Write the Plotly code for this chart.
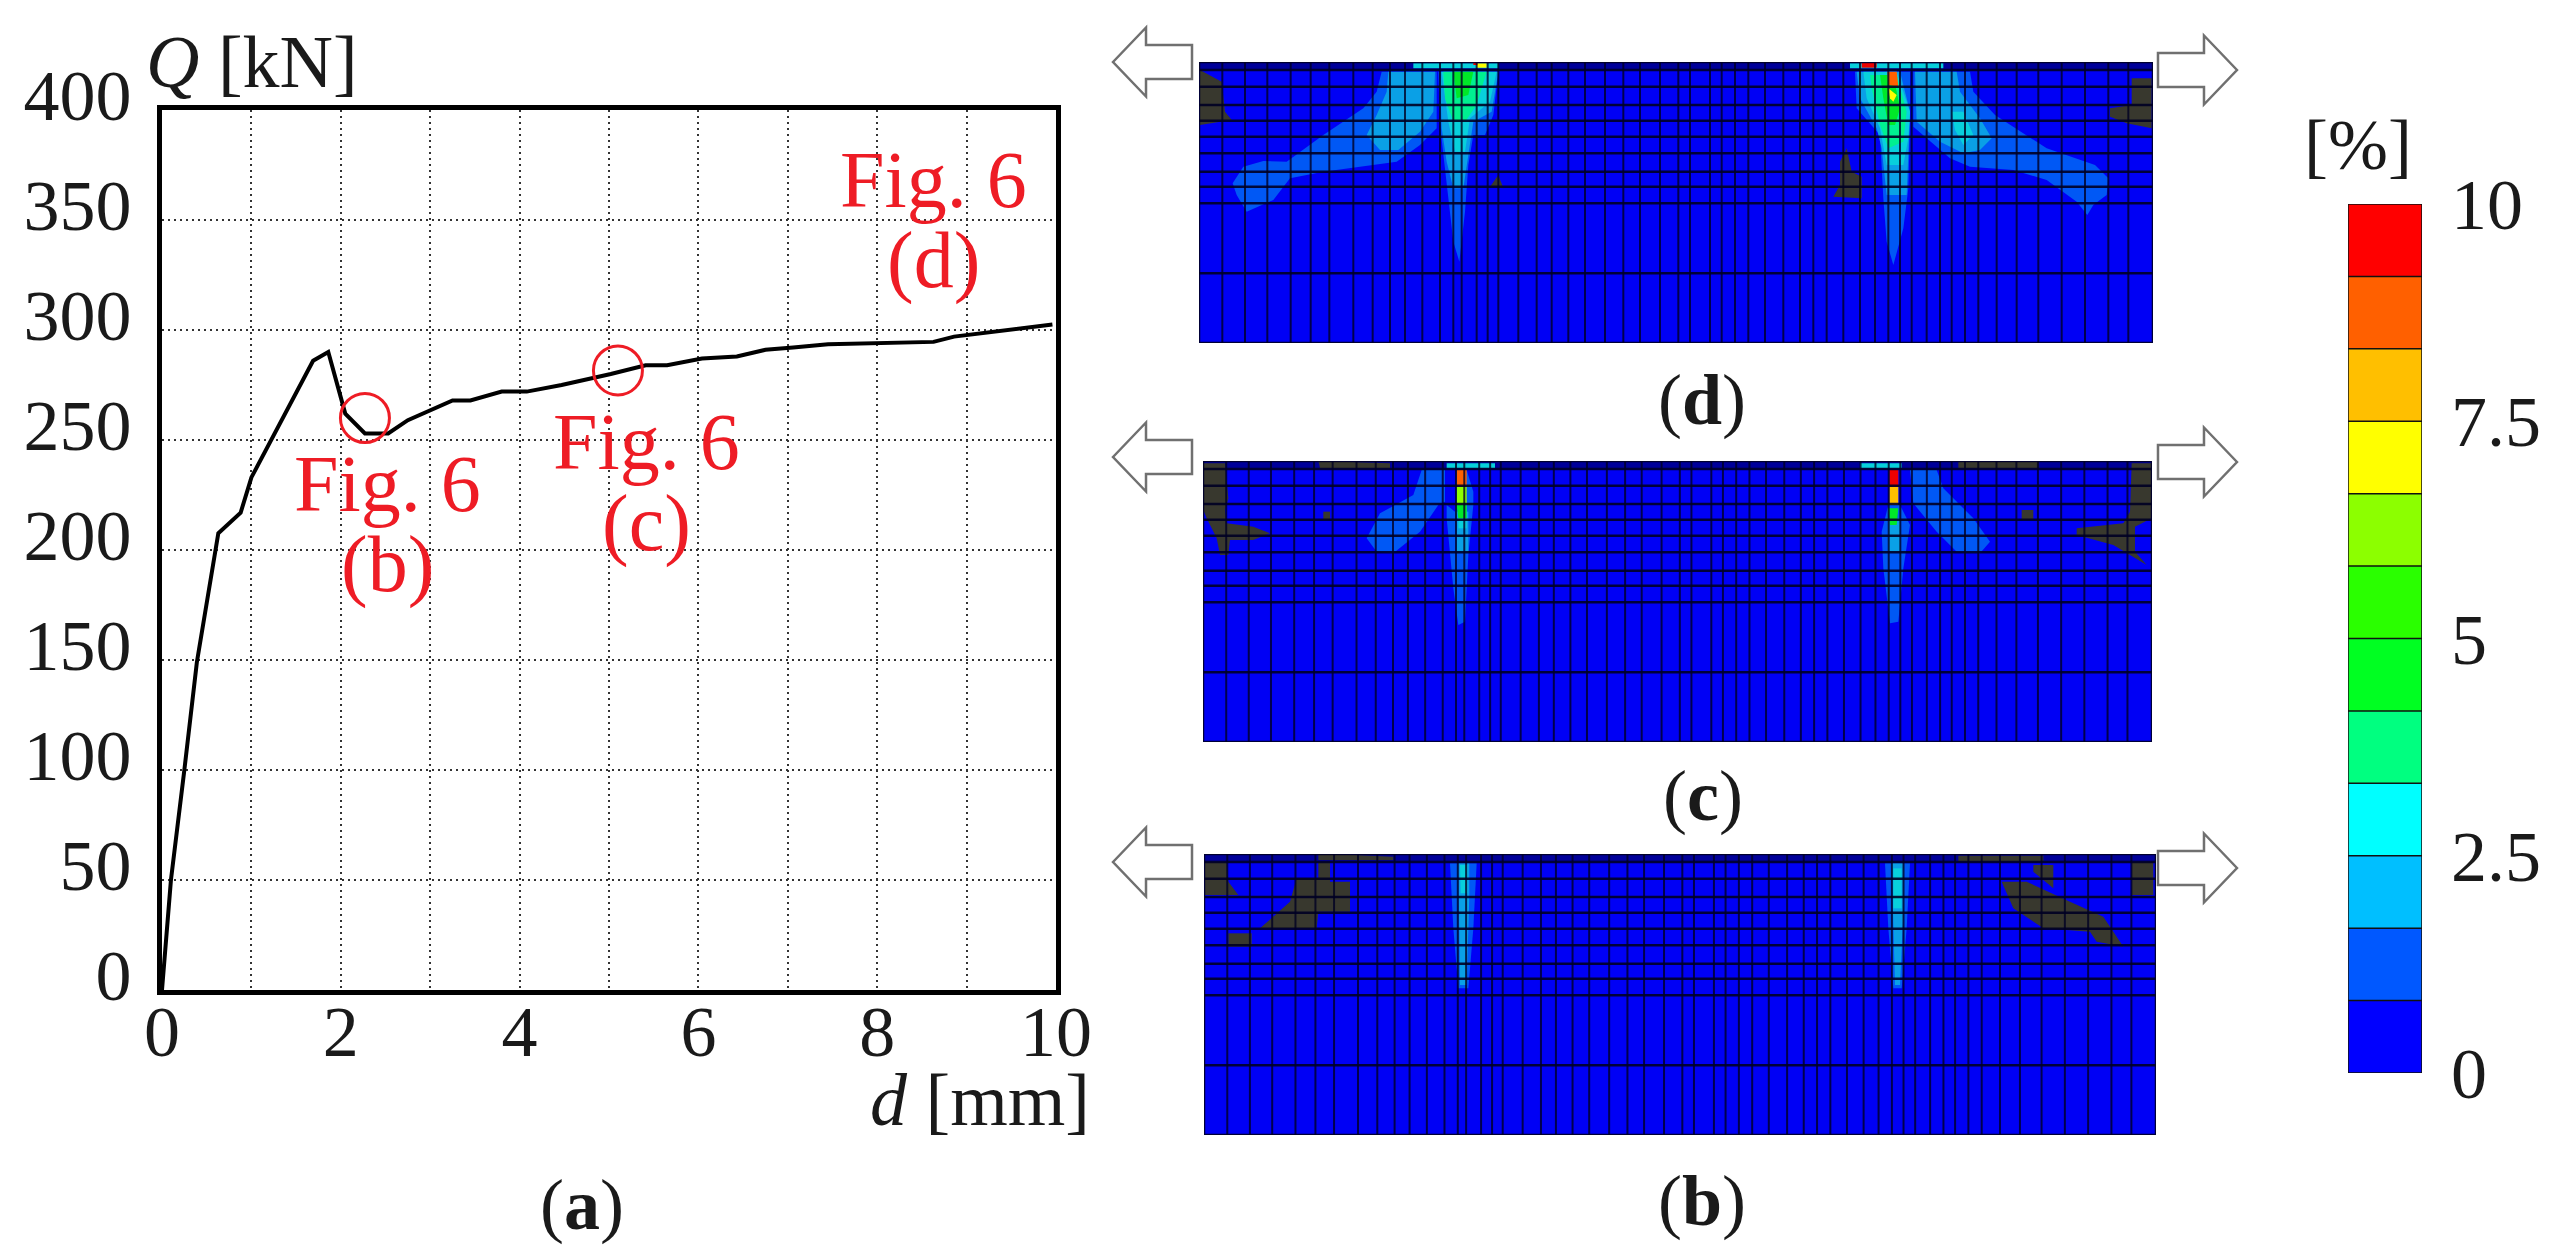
import plotly.graph_objects as go

W, H = 2564, 1253
SERIF = "Liberation Serif"
RED = "#ee1c25"

# ---------- chart (a): load-displacement curve ----------
D_MM = [0, 0.1, 0.25, 0.39, 0.63, 0.88, 1.0, 1.69, 1.86, 2.05, 2.27, 2.53, 2.75, 3.25, 3.45, 3.8, 4.08,
        4.47, 5.02, 5.41, 5.65, 6.04, 6.43, 6.75, 7.06, 7.45, 8.63, 8.86, 9.96]
Q_KN = [0, 50, 100, 149, 207.6, 217, 233, 286, 290, 262, 253, 253, 259, 268, 268, 272, 272,
        275, 280, 284, 284, 287, 288, 291, 292, 293.5, 294.6, 297, 302.5]
MARK_D = [2.27, 5.1, 10.09]
MARK_Q = [260, 281.6, 304]
X_TICKS = [0, 2, 4, 6, 8, 10]
Y_TICKS = [0, 50, 100, 150, 200, 250, 300, 350, 400]
X_GRID = [1, 2, 3, 4, 5, 6, 7, 8, 9]

# ---------- colour scale ----------
PALETTE = ["#0000ff", "#0058ff", "#00bfff", "#00ffff", "#00ff80", "#00ff22",
           "#2aff00", "#8cff00", "#ffff00", "#ffbf00", "#ff6000", "#ff0000"]
FEM_PALETTE = ["#0000f5", "#0058f5", "#0aa0e6", "#08d0dc", "#00f090", "#00e828",
               "#2aff00", "#8cff00", "#ffff00", "#ffbf00", "#ff6000", "#ee0000"]
DARK = "#38382e"
CB_LEVELS = list(range(12))
CB_EDGES = [0, 0.833, 1.667, 2.5, 3.333, 4.167, 5, 5.833, 6.667, 7.5, 8.333, 9.167, 10]
CB_TICKS = [0, 2.5, 5, 7.5, 10]
CB_TEXT = ["0", "2.5", "5", "7.5", "10"]

# ---------- FEM mesh lines, read in 3x crops of panel (d) ----------
MESH_X_L = [97, 165, 232, 302, 362, 418, 490, 548, 600, 645, 697, 750, 790, 815, 860, 893, 925,
            985, 1040, 1085, 1135, 1185, 1245, 1300, 1350, 1410, 1465]
MESH_X_R = [30, 90, 125, 165, 205, 255, 310, 360, 400, 440, 490, 540, 585, 625, 660, 695, 740,
            780, 815, 855, 895, 950, 1010, 1075, 1145, 1215, 1285, 1345]
MESH_Y = [45, 95, 150, 197, 245, 295, 350, 395, 445, 655]

L, R = "L", "R"
D_POLYS = [
    (1, L, [(575,50),(740,50),(740,220),(690,270),(620,320),(400,350),(300,370),(250,435),(170,470),(140,420),(128,385),(160,335),(220,318),(290,320),(400,240),(520,160),(560,110)]),
    (2, L, [(595,50),(735,50),(730,170),(690,230),(625,285),(570,285),(530,240),(560,180),(590,110)]),
    (1, L, [(745,50),(925,50),(910,180),(885,240),(850,240),(835,330),(825,470),(808,620),(790,560),(775,430),(760,300),(750,210)]),
    (2, L, [(750,50),(925,50),(905,170),(850,200),(835,300),(820,400),(790,400),(770,320),(755,220)]),
    (3, L, [(755,50),(920,50),(900,140),(840,190),(825,290),(795,290),(775,200)]),
    (4, L, [(760,50),(890,50),(860,150),(825,200),(790,200),(765,130)]),
    (5, L, [(790,50),(850,50),(835,120),(800,130)]),
    (3, L, [(670,25),(925,25),(925,40),(670,40)]),
    (8, L, [(860,25),(890,25),(890,38),(860,38)]),
    (11, L, [(850,22),(862,22),(862,30),(850,30)]),
    ("d", L, [(30,45),(95,80),(105,170),(125,195),(30,210)]),
    ("d", L, [(900,395),(925,360),(940,400)]),
    (1, R, [(525,50),(690,50),(690,200),(685,400),(670,520),(640,630),(620,560),(610,430),(600,240),(530,160)]),
    (2, R, [(530,50),(660,50),(690,170),(685,300),(680,420),(620,420),(605,280),(590,220),(540,130)]),
    (3, R, [(550,50),(650,50),(690,170),(685,250),(670,330),(620,330),(600,220),(560,130)]),
    (4, R, [(570,60),(650,60),(680,170),(670,260),(625,280),(600,210),(575,100)]),
    (5, R, [(600,60),(640,60),(660,160),(645,210),(625,210),(610,130)]),
    (8, R, [(625,100),(650,120),(640,140),(630,130)]),
    (10, R, [(622,50),(650,50),(655,95),(625,90)]),
    (1, R, [(700,50),(870,50),(880,110),(945,180),(1100,280),(1245,330),(1285,370),(1280,420),(1240,450),(1222,480),(1190,440),(1100,375),(1000,345),(870,335),(810,310),(700,215)]),
    (2, R, [(705,50),(830,50),(840,110),(900,190),(935,250),(900,285),(850,295),(780,260),(710,200)]),
    (3, R, [(815,170),(850,170),(880,240),(850,270),(825,225)]),
    (3, R, [(510,25),(790,25),(790,40),(510,40)]),
    (11, R, [(545,24),(590,24),(590,38),(545,38)]),
    ("d", R, [(1355,70),(1415,70),(1415,220),(1340,205),(1290,185),(1290,160),(1355,150)]),
    ("d", R, [(480,320),(500,280),(515,350),(545,365),(545,430),(460,425),(480,390)]),
]
C_POLYS = [
    ("d", L, [(40,25),(105,25),(115,130),(105,165),(40,165)]),
    ("d", L, [(40,165),(105,165),(110,205),(190,215),(240,235),(190,255),(120,255),(115,300),(90,300),(80,250),(50,190)]),
    ("d", L, [(400,170),(420,170),(420,195),(400,195)]),
    ("d", L, [(385,18),(600,25),(600,40),(390,40)]),
    (1, L, [(695,45),(765,45),(765,140),(745,150),(690,230),(610,295),(560,290),(530,250),(570,175),(670,120)]),
    (1, L, [(770,150),(795,170),(800,45),(830,45),(850,110),(850,150),(835,300),(825,500),(805,510),(790,400),(770,190)]),
    (2, L, [(800,170),(835,170),(835,290),(800,290)]),
    (3, L, [(805,140),(830,140),(830,220),(805,220)]),
    (5, L, [(800,150),(830,150),(830,190),(805,190)]),
    (7, L, [(800,95),(830,95),(830,150),(800,150)]),
    (10, L, [(800,45),(830,45),(830,95),(800,95)]),
    (3, L, [(770,25),(915,25),(915,40),(770,40)]),
    ("d", R, [(1355,25),(1415,25),(1415,190),(1365,215),(1365,290),(1400,330),(1300,270),(1190,240),(1190,220),(1330,205),(1350,170)]),
    ("d", R, [(1025,165),(1060,165),(1060,195),(1025,195)]),
    ("d", R, [(835,20),(1075,20),(1075,40),(835,40)]),
    (1, R, [(690,45),(770,45),(790,100),(880,190),(930,260),(900,295),(830,290),(770,230),(700,145)]),
    (1, R, [(605,230),(625,150),(660,150),(690,210),(670,340),(655,500),(630,505),(610,340)]),
    (2, R, [(625,190),(660,190),(660,290),(625,290)]),
    (5, R, [(625,160),(655,160),(650,210),(630,210)]),
    (9, R, [(628,95),(655,95),(655,150),(628,150)]),
    (11, R, [(628,45),(655,45),(655,95),(628,95)]),
    (3, R, [(540,25),(665,25),(665,40),(540,40)]),
]
B_POLYS = [
    ("d", L, [(45,50),(110,50),(115,110),(145,150),(45,150)]),
    ("d", L, [(385,50),(420,50),(420,110),(480,110),(480,200),(385,200),(380,250),(210,250),(300,170),(320,100),(385,100)]),
    ("d", L, [(115,265),(185,265),(185,305),(115,305)]),
    ("d", L, [(385,25),(610,35),(610,45),(385,45)]),
    (1, L, [(780,55),(860,55),(850,250),(835,430),(805,430),(790,250)]),
    (2, L, [(805,55),(838,55),(838,150),(830,420),(810,420),(805,150)]),
    (3, L, [(810,60),(832,60),(832,145),(812,145)]),
    (1, R, [(615,55),(690,55),(680,250),(665,430),(640,430),(625,250)]),
    (2, R, [(635,55),(670,55),(670,200),(660,420),(645,420),(640,200)]),
    (3, R, [(640,70),(665,70),(665,190),(640,190)]),
    ("d", R, [(1355,50),(1420,50),(1420,150),(1355,150)]),
    ("d", R, [(1060,60),(1120,60),(1120,130),(1060,80)]),
    ("d", R, [(965,110),(1040,110),(1170,170),(1270,215),(1330,305),(1250,290),(1230,260),(1090,250),(1000,190)]),
    ("d", R, [(835,32),(1090,32),(1090,50),(835,50)]),
]

# panel: axis suffix, picture box (x0, x1, y_top, y_bottom), crop tops, polygons
PANELS = [
    ("2", (1199, 2153, 62, 343), 55, D_POLYS),
    ("3", (1203, 2152, 461, 742), 455, C_POLYS),
    ("4", (1204, 2156, 854, 1135), 845, B_POLYS),
]
CROP_X = {L: 1190, R: 1680}

# hollow load arrows, tip heights in picture
ARROW_TIP_L = [62, 457, 862]
ARROW_TIP_R = [70, 462, 868]

fig = go.Figure()

# main curve
fig.add_trace(go.Scatter(x=D_MM, y=Q_KN, mode="lines", line=dict(color="#000", width=4),
                         cliponaxis=False, showlegend=False, xaxis="x", yaxis="y"))
fig.add_trace(go.Scatter(x=MARK_D, y=MARK_Q, mode="markers", cliponaxis=False, showlegend=False,
                         marker=dict(symbol="circle-open", size=49, color=RED, line=dict(width=3, color=RED)),
                         xaxis="x", yaxis="y"))


def poly_trace(xs, ys, color, s):
    return go.Scatter(x=xs, y=ys, mode="lines", fill="toself", fillcolor=color,
                      line=dict(width=0, color=color), showlegend=False, hoverinfo="skip",
                      xaxis="x" + s, yaxis="y" + s)


for s, (x0, x1, yt, yb), crop_y, polys in PANELS:
    fig.add_trace(poly_trace([x0, x1, x1, x0, x0], [yt, yt, yb, yb, yt], FEM_PALETTE[0], s))
    fig.add_trace(poly_trace([x0, x1, x1, x0, x0], [yt, yt, yt + 7, yt + 7, yt], "#00009a", s))
    for level, crop, pts in polys:
        color = DARK if level == "d" else FEM_PALETTE[level]
        xs = [CROP_X[crop] + p[0] / 3 for p in pts]
        ys = [crop_y + p[1] / 3 for p in pts]
        fig.add_trace(poly_trace(xs + xs[:1], ys + ys[:1], color, s))
    mx, my = [], []
    sx = (x1 - x0) / 954
    for base, vals in ((1190, MESH_X_L), (1680, MESH_X_R)):
        for v in vals:
            px = x0 + (base + v / 3 - 1199) * sx
            mx += [px, px, None]
            my += [yt, yb, None]
    fig.add_trace(go.Scatter(x=mx, y=my, mode="lines", line=dict(color="rgba(0,0,35,0.8)", width=2),
                             showlegend=False, hoverinfo="skip", xaxis="x" + s, yaxis="y" + s))
    hx, hy = [], []
    for v in MESH_Y:
        py = yt + (55 + v / 3 - 62)
        hx += [x0, x1, None]
        hy += [py, py, None]
    hx += [x0, x1, x1, x0, x0]
    hy += [yt, yt, yb, yb, yt]
    fig.add_trace(go.Scatter(x=hx, y=hy, mode="lines", line=dict(color="rgba(0,0,35,0.9)", width=2.5),
                             showlegend=False, hoverinfo="skip", xaxis="x" + s, yaxis="y" + s))

# colour bar
n = len(PALETTE) - 1
scale = []
for i, c in enumerate(PALETTE):
    scale += [[i / (n + 1), c], [(i + 1) / (n + 1), c]]
fig.add_trace(go.Heatmap(x=[0, 1], y=CB_EDGES, z=[[v] for v in CB_LEVELS], zmin=-0.5, zmax=11.5,
                         colorscale=scale, showscale=False, xaxis="x5", yaxis="y5"))
ex, ey = [], []
for e in CB_EDGES:
    ex += [0, 1, None]
    ey += [e, e, None]
ex += [0, 0, None, 1, 1]
ey += [0, 10, None, 0, 10]
fig.add_trace(go.Scatter(x=ex, y=ey, mode="lines", line=dict(color="#111", width=1.5), cliponaxis=False,
                         showlegend=False, xaxis="x5", yaxis="y5"))


def fx(p):
    return p / W


def fy(p):
    return 1 - p / H


def panel_axes(x0, x1, yt, yb):
    xa = dict(domain=[fx(x0), fx(x1)], range=[x0, x1], visible=False, fixedrange=True, automargin=False)
    ya = dict(domain=[fy(yb), fy(yt)], range=[yb, yt], visible=False, fixedrange=True, automargin=False)
    return xa, ya


layout = dict(
    width=W, height=H, margin=dict(l=0, r=0, t=0, b=0), autosize=False,
    paper_bgcolor="white", plot_bgcolor="white", showlegend=False,
    font=dict(family=SERIF, color="#1a1a1a"),
    xaxis=dict(domain=[fx(162), fx(1056)], range=[0, 10], tickvals=X_TICKS, ticks="", automargin=False,
               tickfont=dict(family=SERIF, size=72, color="#1a1a1a"), ticklabelstandoff=-25,
               showline=True, linecolor="#000", linewidth=5, mirror=True, zeroline=False,
               showgrid=False, anchor="y"),
    yaxis=dict(domain=[fy(990), fy(110)], range=[0, 400], tickvals=Y_TICKS, ticks="", automargin=False,
               tickfont=dict(family=SERIF, size=72, color="#1a1a1a"), ticklabelstandoff=11,
               ticklabelshift=-15,
               showline=True, linecolor="#000", linewidth=5, mirror=True, zeroline=False,
               showgrid=True, gridcolor="#333", griddash="2px,4px", gridwidth=1.5, anchor="x"),
    xaxis6=dict(domain=[fx(162), fx(1056)], range=[0, 10], overlaying="x", tickvals=X_GRID, showticklabels=False,
                ticks="", showgrid=True, gridcolor="#333", griddash="2px,4px", gridwidth=1.5, automargin=False,
                zeroline=False, showline=False, anchor="y"),
    xaxis5=dict(domain=[fx(2348), fx(2422)], range=[0, 1], visible=False, fixedrange=True, anchor="y5", automargin=False),
    yaxis5=dict(domain=[fy(1073), fy(204)], range=[0, 10], side="right", anchor="x5", tickvals=CB_TICKS, automargin=False,
                ticktext=CB_TEXT, ticks="", showgrid=False, zeroline=False, showline=False,
                tickfont=dict(family=SERIF, size=72, color="#1a1a1a"), ticklabelstandoff=28),
)
for s, (x0, x1, yt, yb), _, _ in PANELS:
    xa, ya = panel_axes(x0, x1, yt, yb)
    xa["anchor"] = "y" + s
    ya["anchor"] = "x" + s
    layout["xaxis" + s] = xa
    layout["yaxis" + s] = ya

fig.update_layout(**layout)
# a trace on the gridline axis so it is rendered
fig.add_trace(go.Scatter(x=[0], y=[0], mode="markers", marker=dict(opacity=0), showlegend=False,
                         hoverinfo="skip", xaxis="x6", yaxis="y"))


def note(text, x, y, size, color="#1a1a1a", anchor="center"):
    fig.add_annotation(text=text, xref="paper", yref="paper", x=fx(x), y=fy(y), showarrow=False,
                       xanchor=anchor, yanchor="middle", font=dict(family=SERIF, size=size, color=color))


note("<i>Q</i> [kN]", 144, 62, 74, anchor="left")
note("<i>d</i> [mm]", 1092, 1100, 74, anchor="right")
note("(<b>a</b>)", 582, 1205, 72)
note("(<b>d</b>)", 1702, 400, 72)
note("(<b>c</b>)", 1703, 796, 72)
note("(<b>b</b>)", 1702, 1201, 72)
note("[%]", 2358, 145, 72)
for x, y1, y2, tag in [(387, 484, 564, "(b)"), (646, 442, 524, "(c)"), (933, 180, 260, "(d)")]:
    note("Fig. 6", x, y1, 80, RED)
    note(tag, x, y2, 80, RED)

# hollow arrows
for tip in ARROW_TIP_L:
    pts = [(1113, tip), (1146, tip - 34.5), (1146, tip - 17), (1192, tip - 17),
           (1192, tip + 17), (1146, tip + 17), (1146, tip + 34.5)]
    path = "M" + " L".join(f"{fx(a):.5f},{fy(b):.5f}" for a, b in pts) + " Z"
    fig.add_shape(type="path", path=path, xref="paper", yref="paper", line=dict(color="#707070", width=2.5),
                  fillcolor="white")
for tip in ARROW_TIP_R:
    pts = [(2237, tip), (2204, tip - 34.5), (2204, tip - 17), (2158, tip - 17),
           (2158, tip + 17), (2204, tip + 17), (2204, tip + 34.5)]
    path = "M" + " L".join(f"{fx(a):.5f},{fy(b):.5f}" for a, b in pts) + " Z"
    fig.add_shape(type="path", path=path, xref="paper", yref="paper", line=dict(color="#707070", width=2.5),
                  fillcolor="white")

fig.write_html("out.html", config=dict(displayModeBar=False),
               post_script="document.body.style.margin='0';document.body.style.overflow='hidden';")
